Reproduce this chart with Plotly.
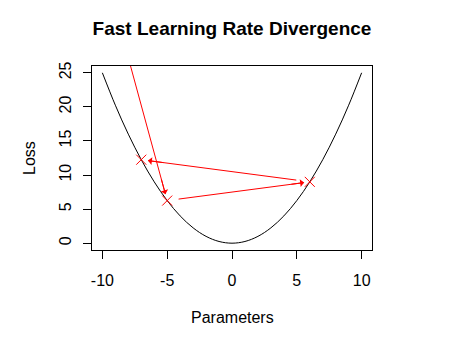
import plotly.graph_objects as go

# Loss curve
curve_x = [-10, -9, -8, -7, -6, -5, -4, -3, -2, -1, 0, 1, 2, 3, 4, 5, 6, 7, 8, 9, 10]
curve_y = [25, 20.25, 16, 12.25, 9, 6.25, 4, 2.25, 1, 0.25, 0, 0.25, 1, 2.25, 4, 6.25, 9, 12.25, 16, 20.25, 25]

# Gradient-descent iterates (red path)
path_x = [-8.4, -5, 6, -7]
path_y = [30.0, 6.25, 9, 12.25]

x_ticks = [-10, -5, 0, 5, 10]
x_tick_labels = ["-10", "-5", "0", "5", "10"]
y_ticks = [0, 5, 10, 15, 20, 25]
y_tick_labels = ["0", "5", "10", "15", "20", "25"]

FONT = "Liberation Sans, Arial, sans-serif"
RED = "#FF0000"
START_FRAC = 0.08
END_FRAC = 0.04

fig = go.Figure()

fig.add_trace(go.Scatter(x=curve_x, y=curve_y, mode="lines",
                         line=dict(color="black", width=1, shape="spline", smoothing=1.0),
                         hoverinfo="skip", showlegend=False))

annotations = []
for i in range(len(path_x) - 1):
    x0, y0, x1, y1 = path_x[i], path_y[i], path_x[i + 1], path_y[i + 1]
    dx, dy = x1 - x0, y1 - y0
    sx, sy = x0 + START_FRAC * dx, y0 + START_FRAC * dy
    ex, ey = x1 - END_FRAC * dx, y1 - END_FRAC * dy
    fig.add_trace(go.Scatter(x=[sx, ex], y=[sy, ey], mode="lines",
                             line=dict(color=RED, width=1),
                             hoverinfo="skip", showlegend=False))
    annotations.append(dict(x=ex, y=ey, xref="x", yref="y",
                            ax=ex - 0.1 * dx, ay=ey - 0.1 * dy, axref="x", ayref="y",
                            showarrow=True, arrowhead=1, arrowsize=1.3, arrowwidth=1,
                            arrowcolor=RED, text=""))

fig.add_trace(go.Scatter(x=path_x, y=path_y, mode="markers",
                         marker=dict(symbol="x-thin-open", size=10, color=RED,
                                     line=dict(color=RED, width=1)),
                         cliponaxis=True, hoverinfo="skip", showlegend=False))

annotations.append(dict(text="Parameters", x=0.5, y=0, xref="paper", yref="paper",
                        xanchor="center", yanchor="middle", yshift=-67, showarrow=False,
                        font=dict(size=16, color="black", family=FONT)))
annotations.append(dict(text="Loss", x=0, y=0.5, xref="paper", yref="paper",
                        xanchor="center", yanchor="middle", xshift=-63, textangle=-90,
                        showarrow=False, font=dict(size=16, color="black", family=FONT)))

axis_common = dict(showgrid=False, zeroline=False, showline=True, mirror=True,
                   linecolor="black", linewidth=1, ticks="outside", ticklen=8,
                   tickcolor="black", tickwidth=1,
                   tickfont=dict(size=16, color="black", family=FONT))

fig.update_layout(
    width=463, height=353,
    margin=dict(l=92, r=91, t=66, b=103, pad=0),
    paper_bgcolor="white", plot_bgcolor="white",
    title=dict(text="<b>Fast Learning Rate Divergence</b>", x=0.5, xref="paper",
               y=1 - 28.5 / 353, yref="container", xanchor="center", yanchor="middle",
               font=dict(size=19, color="black", family=FONT)),
    xaxis=dict(range=[-10.8, 10.8], tickvals=x_ticks, ticktext=x_tick_labels,
               ticklabelstandoff=8, **axis_common),
    yaxis=dict(range=[-1, 26], tickvals=y_ticks, ticktext=y_tick_labels, tickangle=-90,
               ticklabelstandoff=6, **axis_common),
    annotations=annotations,
    showlegend=False,
)

fig.write_html("out.html")
